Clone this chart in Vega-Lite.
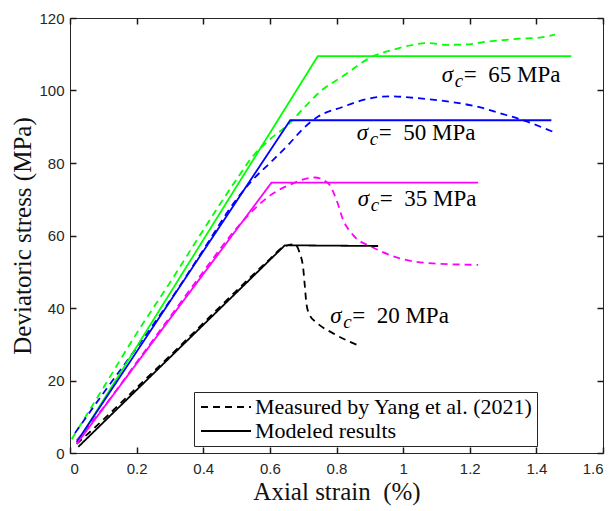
{
  "$schema": "https://vega.github.io/schema/vega-lite/v6.json",
  "width": 533,
  "height": 435,
  "autosize": "none",
  "padding": {"left": 70, "top": 18, "right": 13, "bottom": 58},
  "background": "white",
  "config": {
    "view": {"stroke": "#262626", "strokeWidth": 1},
    "axis": {
      "domain": false,
      "grid": false,
      "ticks": true,
      "tickColor": "#1a1a1a",
      "tickWidth": 1.5,
      "tickSize": 6,
      "labelFont": "Liberation Sans",
      "labelFontSize": 15,
      "labelColor": "#262626",
      "titleFont": "Liberation Serif",
      "titleFontSize": 25,
      "titleFontWeight": "normal",
      "titleColor": "#111111"
    }
  },
  "datasets": {
    "curves": [
      {"s": "65", "t": "R", "x": 0.025, "y": 3.5},
      {"s": "65", "t": "R", "x": 0.744, "y": 109.5},
      {"s": "65", "t": "R", "x": 1.505, "y": 109.5},
      {"s": "50", "t": "R", "x": 0.02, "y": 3.0},
      {"s": "50", "t": "R", "x": 0.661, "y": 91.8},
      {"s": "50", "t": "R", "x": 1.445, "y": 91.8},
      {"s": "35", "t": "R", "x": 0.02, "y": 2.5},
      {"s": "35", "t": "R", "x": 0.605, "y": 74.6},
      {"s": "35", "t": "R", "x": 1.225, "y": 74.6},
      {"s": "20", "t": "R", "x": 0.025, "y": 1.7},
      {"s": "20", "t": "R", "x": 0.645, "y": 57.3},
      {"s": "20", "t": "R", "x": 0.925, "y": 57.1},

      {"s": "65", "t": "M", "x": 0.005, "y": 3.8},
      {"s": "65", "t": "M", "x": 0.1, "y": 18},
      {"s": "65", "t": "M", "x": 0.2, "y": 33},
      {"s": "65", "t": "M", "x": 0.3, "y": 47},
      {"s": "65", "t": "M", "x": 0.4, "y": 61.5},
      {"s": "65", "t": "M", "x": 0.5, "y": 75.5},
      {"s": "65", "t": "M", "x": 0.55, "y": 82},
      {"s": "65", "t": "M", "x": 0.6, "y": 86.5},
      {"s": "65", "t": "M", "x": 0.66, "y": 91},
      {"s": "65", "t": "M", "x": 0.7, "y": 95},
      {"s": "65", "t": "M", "x": 0.755, "y": 100},
      {"s": "65", "t": "M", "x": 0.82, "y": 104},
      {"s": "65", "t": "M", "x": 0.9, "y": 109},
      {"s": "65", "t": "M", "x": 0.98, "y": 111.5},
      {"s": "65", "t": "M", "x": 1.03, "y": 112.6},
      {"s": "65", "t": "M", "x": 1.075, "y": 113.1},
      {"s": "65", "t": "M", "x": 1.13, "y": 112.6},
      {"s": "65", "t": "M", "x": 1.19, "y": 112.7},
      {"s": "65", "t": "M", "x": 1.245, "y": 113.4},
      {"s": "65", "t": "M", "x": 1.3, "y": 113.9},
      {"s": "65", "t": "M", "x": 1.35, "y": 114.3},
      {"s": "65", "t": "M", "x": 1.4, "y": 114.5},
      {"s": "65", "t": "M", "x": 1.456, "y": 115.4},

      {"s": "50", "t": "M", "x": 0.015, "y": 5.5},
      {"s": "50", "t": "M", "x": 0.1, "y": 16.5},
      {"s": "50", "t": "M", "x": 0.2, "y": 29},
      {"s": "50", "t": "M", "x": 0.3, "y": 42},
      {"s": "50", "t": "M", "x": 0.4, "y": 56},
      {"s": "50", "t": "M", "x": 0.5, "y": 70},
      {"s": "50", "t": "M", "x": 0.55, "y": 75.5},
      {"s": "50", "t": "M", "x": 0.606, "y": 80.5},
      {"s": "50", "t": "M", "x": 0.66, "y": 85.5},
      {"s": "50", "t": "M", "x": 0.7, "y": 89.5},
      {"s": "50", "t": "M", "x": 0.745, "y": 92.8},
      {"s": "50", "t": "M", "x": 0.82, "y": 95.5},
      {"s": "50", "t": "M", "x": 0.89, "y": 97.6},
      {"s": "50", "t": "M", "x": 0.96, "y": 98.4},
      {"s": "50", "t": "M", "x": 1.03, "y": 98},
      {"s": "50", "t": "M", "x": 1.14, "y": 96.9},
      {"s": "50", "t": "M", "x": 1.21, "y": 95.8},
      {"s": "50", "t": "M", "x": 1.3, "y": 93.5},
      {"s": "50", "t": "M", "x": 1.36, "y": 91.8},
      {"s": "50", "t": "M", "x": 1.45, "y": 88.6},

      {"s": "35", "t": "M", "x": 0.02, "y": 3.5},
      {"s": "35", "t": "M", "x": 0.1, "y": 12.5},
      {"s": "35", "t": "M", "x": 0.2, "y": 25},
      {"s": "35", "t": "M", "x": 0.3, "y": 37.5},
      {"s": "35", "t": "M", "x": 0.4, "y": 50},
      {"s": "35", "t": "M", "x": 0.5, "y": 62},
      {"s": "35", "t": "M", "x": 0.55, "y": 67},
      {"s": "35", "t": "M", "x": 0.6, "y": 71},
      {"s": "35", "t": "M", "x": 0.66, "y": 74},
      {"s": "35", "t": "M", "x": 0.735, "y": 76},
      {"s": "35", "t": "M", "x": 0.775, "y": 74.4},
      {"s": "35", "t": "M", "x": 0.8, "y": 69.8},
      {"s": "35", "t": "M", "x": 0.82, "y": 64.3},
      {"s": "35", "t": "M", "x": 0.85, "y": 60.1},
      {"s": "35", "t": "M", "x": 0.91, "y": 56.7},
      {"s": "35", "t": "M", "x": 0.99, "y": 53.7},
      {"s": "35", "t": "M", "x": 1.09, "y": 52.3},
      {"s": "35", "t": "M", "x": 1.225, "y": 51.9},

      {"s": "20", "t": "M", "x": 0.02, "y": 2.5},
      {"s": "20", "t": "M", "x": 0.1, "y": 9.2},
      {"s": "20", "t": "M", "x": 0.2, "y": 18},
      {"s": "20", "t": "M", "x": 0.3, "y": 26.8},
      {"s": "20", "t": "M", "x": 0.4, "y": 35.8},
      {"s": "20", "t": "M", "x": 0.5, "y": 44.8},
      {"s": "20", "t": "M", "x": 0.6, "y": 53.5},
      {"s": "20", "t": "M", "x": 0.64, "y": 56.8},
      {"s": "20", "t": "M", "x": 0.675, "y": 57.6},
      {"s": "20", "t": "M", "x": 0.69, "y": 55},
      {"s": "20", "t": "M", "x": 0.7, "y": 51},
      {"s": "20", "t": "M", "x": 0.705, "y": 46},
      {"s": "20", "t": "M", "x": 0.71, "y": 41},
      {"s": "20", "t": "M", "x": 0.72, "y": 38},
      {"s": "20", "t": "M", "x": 0.74, "y": 36},
      {"s": "20", "t": "M", "x": 0.79, "y": 33},
      {"s": "20", "t": "M", "x": 0.87, "y": 29.5}
    ],
    "labels": [
      {"x": 1.116, "y": 102.4, "rest": "=\u00a0 65 MPa"},
      {"x": 0.861, "y": 86.3, "rest": "=\u00a0 50 MPa"},
      {"x": 0.864, "y": 68.2, "rest": "=\u00a0 35 MPa"},
      {"x": 0.781, "y": 35.8, "rest": "=\u00a0 20 MPa"}
    ]
  },
  "layer": [
    {
      "data": {"name": "curves"},
      "transform": [{"filter": "datum.t == 'M'"}],
      "mark": {"type": "line", "strokeWidth": 1.8, "interpolate": "monotone"},
      "encoding": {
        "x": {"field": "x", "type": "quantitative", "scale": {"domain": [0, 1.6], "nice": false, "zero": false}, "axis": null},
        "y": {"field": "y", "type": "quantitative", "scale": {"domain": [0, 120], "nice": false}, "axis": null},
        "color": {"field": "s", "type": "nominal", "scale": {"domain": ["20", "35", "50", "65"], "range": ["#000000", "#ff00ff", "#0000ff", "#00ff00"]}, "legend": null},
        "strokeDash": {"field": "t", "type": "nominal", "scale": {"domain": ["M", "R"], "range": [[7, 5], [1, 0]]}}
      }
    },
    {
      "data": {"name": "curves"},
      "transform": [{"filter": "datum.t == 'R'"}],
      "mark": {"type": "line", "strokeWidth": 1.8},
      "encoding": {
        "x": {"field": "x", "type": "quantitative", "scale": {"domain": [0, 1.6], "nice": false, "zero": false},
          "axis": {"orient": "bottom", "offset": -6, "values": [0, 0.2, 0.4, 0.6, 0.8, 1, 1.2, 1.4, 1.6], "format": "~g", "labelPadding": 8, "title": "Axial strain\u00a0 (%)", "titlePadding": 3}},
        "y": {"field": "y", "type": "quantitative", "scale": {"domain": [0, 120], "nice": false},
          "axis": {"orient": "left", "offset": -6, "values": [0, 20, 40, 60, 80, 100, 120], "labelPadding": 6, "title": "Deviatoric stress (MPa)", "titlePadding": 3}},
        "color": {"field": "s", "type": "nominal", "scale": {"domain": ["20", "35", "50", "65"], "range": ["#000000", "#ff00ff", "#0000ff", "#00ff00"]}, "legend": null},
        "strokeDash": {"field": "t", "type": "nominal", "scale": {"domain": ["M", "R"], "range": [[7, 5], [1, 0]]},
          "legend": {
            "orient": "none", "legendX": 124, "legendY": 374, "title": null, "direction": "vertical",
            "strokeColor": "#262626", "fillColor": "white", "padding": 4,
            "labelFont": "Liberation Serif", "labelFontSize": 22, "labelColor": "black", "labelLimit": 500,
            "labelExpr": "datum.label == 'M' ? 'Measured by Yang et al. (2021)' : 'Modeled results'",
            "symbolType": "M-5,0H5", "symbolSize": 100, "symbolStrokeWidth": 2, "symbolStrokeColor": "black",
            "symbolOffset": 17, "labelOffset": 18, "rowPadding": 2
          }}
      }
    },
    {
      "data": {"name": "labels"},
      "mark": {"type": "text", "font": "Liberation Serif", "fontStyle": "italic", "fontSize": 23, "align": "left", "baseline": "alphabetic", "color": "black"},
      "encoding": {
        "x": {"field": "x", "type": "quantitative", "axis": {"orient": "top", "offset": -6, "values": [0, 0.2, 0.4, 0.6, 0.8, 1, 1.2, 1.4, 1.6], "labels": false, "title": null}},
        "y": {"field": "y", "type": "quantitative", "axis": {"orient": "right", "offset": -6, "values": [0, 20, 40, 60, 80, 100, 120], "labels": false, "title": null}},
        "text": {"value": "σ"}
      }
    },
    {
      "data": {"name": "labels"},
      "mark": {"type": "text", "font": "Liberation Serif", "fontStyle": "italic", "fontSize": 19, "align": "left", "baseline": "alphabetic", "dx": 13, "dy": 5, "color": "black"},
      "encoding": {
        "x": {"field": "x", "type": "quantitative", "axis": null},
        "y": {"field": "y", "type": "quantitative", "axis": null},
        "text": {"value": "c"}
      }
    },
    {
      "data": {"name": "labels"},
      "mark": {"type": "text", "font": "Liberation Serif", "fontSize": 23, "align": "left", "baseline": "alphabetic", "dx": 22, "color": "black"},
      "encoding": {
        "x": {"field": "x", "type": "quantitative", "axis": null},
        "y": {"field": "y", "type": "quantitative", "axis": null},
        "text": {"field": "rest", "type": "nominal"}
      }
    }
  ],
  "resolve": {"axis": {"x": "independent", "y": "independent"}}
}
